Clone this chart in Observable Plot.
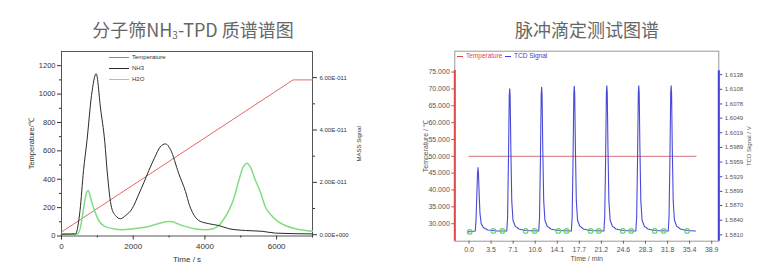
<!DOCTYPE html>
<html><head><meta charset="utf-8">
<script src="https://cdn.jsdelivr.net/npm/d3@7"></script>
<script src="https://cdn.jsdelivr.net/npm/@observablehq/plot@0.6"></script>
<style>
body{margin:0;background:#fff;}
#root{position:relative;width:780px;height:279px;overflow:hidden;background:#fff;font-family:"Liberation Sans",Arial,sans-serif;}
.title{position:absolute;top:16px;font-family:"Noto Sans CJK SC",sans-serif;font-size:18px;color:#666;white-space:nowrap;transform:translateX(-50%);line-height:26px;}
.title sub{font-size:10px;vertical-align:-2px;}
.layer{position:absolute;width:390px;height:239px;}
.layer svg{display:block;overflow:visible;}
.leg{position:absolute;white-space:nowrap;line-height:8px;height:8px;display:flex;align-items:center;}
.leg svg{display:block;margin-right:3px;}
</style></head>
<body><div id="root">
<div class="title" style="left:193px">分子筛NH<sub>3</sub>-TPD 质谱谱图</div>
<div class="title" style="left:587px">脉冲滴定测试图谱</div>
<div class="layer" id="a" style="left:0;top:40px"></div>
<div class="layer" id="b" style="left:0;top:40px"></div>
<div class="layer" id="c" style="left:390px;top:40px"></div>
<div class="layer" id="d" style="left:390px;top:40px"></div>
<div id="legends"></div>
</div>
<script>
// ---------- left chart: NH3-TPD ----------
const tempTime = [0, 6460, 7000];
const tempValue = [28, 1100, 1100];
const nh3Time = [0,400,446,516,614,711,837,968,1088,1208,1275,1394,1506,1646,1785,1972,2156,2300,2435,2600,2750,2900,3040,3271,3458,3570,3654,3829,4108,4387,4666,5132,5597,5968,7000];
const nh3Mass = [0.02,0.03,0.24,0.92,2.45,3.6,5.32,6.15,4.84,3.53,2.40,1.05,0.73,0.61,0.73,1.00,1.55,2.00,2.45,2.95,3.35,3.47,3.25,2.33,1.65,1.12,0.85,0.54,0.42,0.35,0.23,0.16,0.13,0.06,0.03];
const h2oTime = [0,446,530,622,697,745,795,856,976,1040,1171,1319,1693,2016,2435,2761,3040,3366,3737,4016,4211,4387,4518,4666,4806,4945,5076,5179,5271,5411,5550,5690,5857,6061,6275,6526,7000];
const h2oMass = [0.03,0.03,0.29,1.05,1.61,1.69,1.50,1.18,0.73,0.54,0.35,0.26,0.19,0.23,0.31,0.45,0.50,0.35,0.22,0.19,0.22,0.35,0.58,0.92,1.38,2.07,2.61,2.73,2.57,2.07,1.61,1.05,0.73,0.48,0.33,0.23,0.13];
const timeTicks = [0, 2000, 4000, 6000];
const timeMinor = [1000, 3000, 5000, 7000];
const tempTicks = [0, 200, 400, 600, 800, 1000, 1200];
const tempMinor = [100, 300, 500, 700, 900, 1100];
const massTicks = [0, 2, 4, 6];
const massTickLabels = ["0.00E+000", "2.00E-011", "4.00E-011", "6.00E-011"];
const massMinor = [1, 3, 5];
const tpdSeries = ["Temperature", "NH3", "H2O"];
const tpdColors = ["#e06a6a", "#2a2a2a", "#80de80"];

// ---------- right chart: pulse titration ----------
const tcdTime = [-0.2,0.5,1.0,1.12,1.25,1.36,1.44,1.52,1.62,1.75,1.95,2.3,3.0,4.5,
 6.05,6.18,6.32,6.45,6.52,6.59,6.70,6.85,7.05,7.4,8.0,9.0,
 11.17,11.30,11.44,11.57,11.64,11.71,11.82,11.97,12.17,12.52,13.12,14.12,
 16.40,16.53,16.67,16.80,16.87,16.94,17.05,17.20,17.40,17.75,18.35,19.35,
 21.62,21.75,21.89,22.02,22.09,22.16,22.27,22.42,22.62,22.97,23.57,24.57,
 26.74,26.87,27.01,27.14,27.21,27.28,27.39,27.54,27.74,28.09,28.69,29.69,
 31.93,32.06,32.20,32.33,32.40,32.47,32.58,32.73,32.93,33.28,33.88,34.88,36.3];
const tcdSignal = [1.5816,1.5817,1.5818,1.5840,1.5890,1.5935,1.5948,1.5935,1.5895,1.5855,1.5833,1.5825,1.5820,1.5818,
 1.5818,1.5845,1.5960,1.6095,1.6109,1.6095,1.5990,1.5880,1.5840,1.5828,1.5822,1.5819,
 1.5818,1.5845,1.5960,1.6098,1.6112,1.6098,1.5990,1.5880,1.5840,1.5828,1.5822,1.5819,
 1.5818,1.5845,1.5960,1.6100,1.6114,1.6100,1.5990,1.5880,1.5840,1.5828,1.5822,1.5819,
 1.5818,1.5845,1.5960,1.6101,1.6115,1.6101,1.5990,1.5880,1.5840,1.5828,1.5822,1.5819,
 1.5818,1.5845,1.5960,1.6101,1.6115,1.6101,1.5990,1.5880,1.5840,1.5828,1.5822,1.5819,
 1.5818,1.5845,1.5960,1.6101,1.6115,1.6101,1.5990,1.5880,1.5840,1.5828,1.5822,1.5819,1.5818];
const baseTime = [0.11,3.9,5.35,9.08,10.52,14.31,15.64,19.48,20.81,24.65,25.99,29.77,31.21,34.96];
const baseSignal = [1.5816,1.5818,1.5818,1.5818,1.5818,1.5818,1.5818,1.5818,1.5818,1.5818,1.5818,1.5818,1.5818,1.5818];
const pulseTempTime = [0, 36.4];
const pulseTempValue = [50, 50];
const minTicks = [0, 3.536, 7.073, 10.609, 14.145, 17.682, 21.218, 24.755, 28.291, 31.827, 35.364, 38.9];
const minTickLabels = ["0.0","3.5","7.1","10.6","14.1","17.7","21.2","24.6","28.3","31.8","35.4","38.9"];
const pTempTicks = [30, 35, 40, 45, 50, 55, 60, 65, 70, 75];
const pTempTickLabels = ["30.000","35.000","40.000","45.000","50.000","55.000","60.000","65.000","70.000","75.000"];
const tcdTicks = [1.5810,1.5840,1.5870,1.5899,1.5929,1.5959,1.5989,1.6019,1.6049,1.6078,1.6108,1.6138];
const tcdTickLabels = ["1.5810","1.5840","1.5870","1.5899","1.5929","1.5959","1.5989","1.6019","1.6049","1.6078","1.6108","1.6138"];
const pulseSeries = ["Temperature", "TCD Signal"];
const pulseColors = ["#e04848", "#4040d0"];

const zip = (xs, ys) => xs.map((x, i) => ({x, y: ys[i]}));
const styleBase = {background: "transparent", overflow: "visible", fontFamily: "Liberation Sans, Arial, sans-serif", color: "#333"};

// Left chart geometry
const L = {width: 390, height: 239, marginLeft: 61, marginRight: 78, marginTop: 11, marginBottom: 43.5};
const tpdX = {domain: [0, 7000]};

const plotA = Plot.plot({
  ...L, style: {...styleBase, fontSize: "7.5px"},
  x: tpdX, y: {domain: [0, 1300]},
  marks: [
    Plot.frame({stroke: "#555"}),
    Plot.axisX({ticks: timeTicks, tickSize: 4, tickPadding: 3, tickFormat: d => String(d), label: "Time / s", labelAnchor: "center", labelArrow: "none", labelOffset: 26, fontSize: 8}),
    Plot.axisX({ticks: timeMinor, tickSize: 2, text: null, label: null}),
    Plot.axisY({ticks: tempTicks, tickSize: 4, tickPadding: 2, tickFormat: d => String(d), label: "Temperature/℃", labelAnchor: "center", labelArrow: "none", labelOffset: 33, fontSize: 7.5}),
    Plot.axisY({ticks: tempMinor, tickSize: 2, text: null, label: null}),
    Plot.line(zip(tempTime, tempValue), {x: "x", y: "y", stroke: tpdColors[0], strokeWidth: 1})
  ]
});
document.getElementById("a").append(plotA);

const plotB = Plot.plot({
  ...L, style: {...styleBase, fontSize: "6px"},
  x: {...tpdX, axis: null}, y: {domain: [-0.05, 7.0], axis: null},
  marks: [
    Plot.axisY({anchor: "right", ticks: massTicks, tickSize: 4, tickPadding: 3, tickFormat: d => massTickLabels[massTicks.indexOf(d)], label: "MASS Signal", labelAnchor: "center", labelArrow: "none", labelOffset: 48, fontSize: 6}),
    Plot.axisY({anchor: "right", ticks: massMinor, tickSize: 2, text: null, label: null}),
    Plot.line(zip(h2oTime, h2oMass), {x: "x", y: "y", stroke: tpdColors[2], strokeWidth: 1.5, curve: "monotone-x"}),
    Plot.line(zip(nh3Time, nh3Mass), {x: "x", y: "y", stroke: tpdColors[1], strokeWidth: 1, curve: "monotone-x"})
  ]
});
document.getElementById("b").append(plotB);

// Right chart geometry
const R = {width: 390, height: 239, marginLeft: 64.3, marginRight: 61.7, marginTop: 10.7, marginBottom: 38.3};
const pX = {domain: [-2.28, 40.04]};
const pTempDomain = [24.8, 81.2];
const tcdDomain = [1.5797, 1.6186];
const pTempAxisTop = 75.5;
const tcdAxisTop = 1.6146;

const plotC = Plot.plot({
  ...R, style: {...styleBase, fontSize: "7px", color: "#555"},
  x: pX, y: {domain: pTempDomain},
  marks: [
    Plot.frame({stroke: "#999"}),
    Plot.axisX({ticks: minTicks, tickSize: 3, tickPadding: 3, stroke: "#666", tickFormat: d => minTickLabels[minTicks.indexOf(d)], label: "Time / min", labelAnchor: "center", labelArrow: "none", labelOffset: 20, fontSize: 7}),
    Plot.axisY({ticks: pTempTicks, tickSize: 3, tickPadding: 2, stroke: pulseColors[0], tickFormat: d => pTempTickLabels[pTempTicks.indexOf(d)], label: "Temperature / ℃", labelAnchor: "center", labelArrow: "none", labelOffset: 32, fontSize: 7}),
    Plot.ruleX([pX.domain[0]], {y1: pTempDomain[0], y2: pTempAxisTop, stroke: pulseColors[0], strokeWidth: 2}),
    Plot.line(zip(pulseTempTime, pulseTempValue), {x: "x", y: "y", stroke: "#d9707c", strokeWidth: 1})
  ]
});
document.getElementById("c").append(plotC);

const plotD = Plot.plot({
  ...R, style: {...styleBase, fontSize: "6px", color: "#555"},
  x: {...pX, axis: null}, y: {domain: tcdDomain, axis: null},
  marks: [
    Plot.axisY({anchor: "right", ticks: tcdTicks, tickSize: 3, tickPadding: 3, stroke: pulseColors[1], tickFormat: d => tcdTickLabels[tcdTicks.indexOf(d)], label: "TCD Signal / V", labelAnchor: "center", labelArrow: "none", labelOffset: 32, fontSize: 6}),
    Plot.ruleX([pX.domain[1]], {y1: tcdDomain[0], y2: tcdAxisTop, stroke: pulseColors[1], strokeWidth: 2}),
    Plot.line(zip(tcdTime, tcdSignal), {x: "x", y: "y", stroke: "#4a4ad8", strokeWidth: 1.1}),
    Plot.dot(zip(baseTime, baseSignal), {x: "x", y: "y", r: 2.3, stroke: "#66d066", strokeWidth: 1.1, fill: "none"})
  ]
});
document.getElementById("d").append(plotD);

// Legends (HTML + tiny SVG swatches)
const legRoot = document.getElementById("legends");
function legendItem(left, top, len, color, label, textColor, fontSize) {
  const div = document.createElement("div");
  div.className = "leg";
  div.style.left = left + "px";
  div.style.top = top + "px";
  div.style.fontSize = fontSize + "px";
  div.style.color = textColor;
  div.innerHTML = `<svg width="${len}" height="3"><line x1="0" x2="${len}" y1="1.5" y2="1.5" stroke="${color}" stroke-width="1"/></svg><span>${label}</span>`;
  legRoot.append(div);
}
tpdSeries.forEach((s, i) => legendItem(109, 53 + i * 11, 20, tpdColors[i], s, "#333", 6));
legendItem(457, 52, 6, pulseColors[0], pulseSeries[0], pulseColors[0], 6.5);
legendItem(505, 52, 6, pulseColors[1], pulseSeries[1], pulseColors[1], 6.5);
</script>
</body></html>
